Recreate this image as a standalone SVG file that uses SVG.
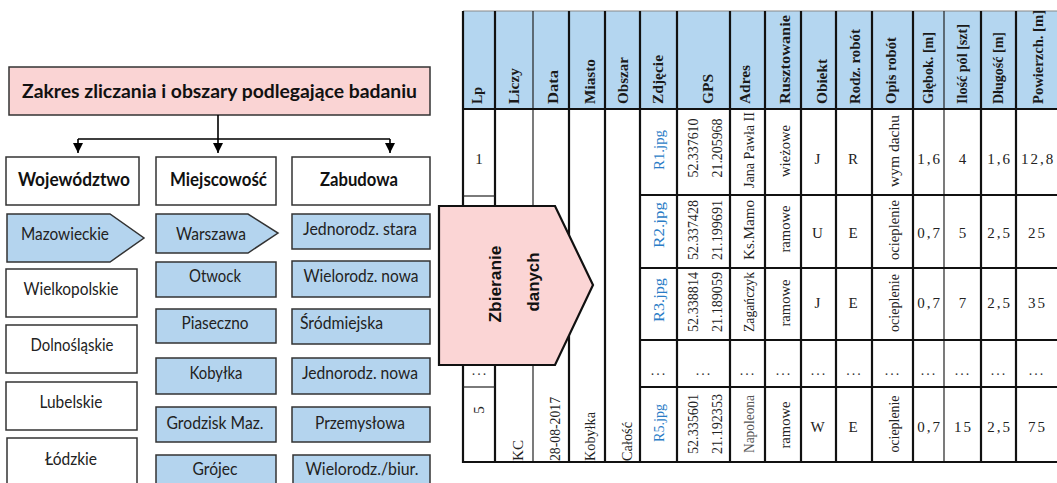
<svg xmlns="http://www.w3.org/2000/svg" width="1057" height="483" viewBox="0 0 1057 483">
<defs>
<marker id="arr" markerUnits="userSpaceOnUse" markerWidth="11" markerHeight="11" refX="10" refY="5" orient="auto">
<path d="M0,0 L10,5 L0,10 z" fill="#000"/>
</marker>
<style>
.title{font-family:Lato,"Liberation Sans",sans-serif;font-weight:bold;font-size:18px;fill:#111;text-anchor:middle}
.cat{font-family:Lato,"Liberation Sans",sans-serif;font-weight:bold;font-size:19px;fill:#111;text-anchor:middle}
.lbl{font-family:Lato,"Liberation Sans",sans-serif;font-size:16.5px;fill:#222;text-anchor:middle}
.blue{fill:#b4d4ee;stroke:#333;stroke-width:1.5}
.white{fill:#fff;stroke:#333;stroke-width:1.5}
.pink{fill:#fad4d4;stroke:#333;stroke-width:1.5}
.conn{fill:none;stroke:#000;stroke-width:1.6}
.hdr{font-family:"Liberation Serif",serif;font-weight:bold;font-size:15px;fill:#1a1a1a}
.cell{font-family:"Liberation Serif",serif;font-size:14px;fill:#222}
.jpg{font-family:"Liberation Serif",serif;font-size:14px;fill:#2a7cc6;text-anchor:middle}
.mid{text-anchor:middle}
.num{font-family:"Liberation Serif",serif;font-size:15px;letter-spacing:2px;fill:#222;text-anchor:middle}
.dots{font-family:"Liberation Serif",serif;font-size:14px;letter-spacing:2px;fill:#333;text-anchor:middle}
.gl{stroke:#111;stroke-width:2.2}
.gt{stroke:#222;stroke-width:1.2}
.zb{font-family:"Liberation Sans",sans-serif;font-weight:bold;font-size:17px;fill:#111;text-anchor:middle}
</style>
</defs>

<!-- Left hierarchy -->
<g id="title">
<rect class="pink" x="9" y="67" width="421" height="48"/>
<text class="title" x="219.5" y="98" textLength="395" lengthAdjust="spacingAndGlyphs">Zakres zliczania i obszary podlegające badaniu</text>
</g>

<g id="connectors">
<path class="conn" d="M218 115 V139 M78 139 H390"/>
<path class="conn" d="M78 139 V153" marker-end="url(#arr)"/>
<path class="conn" d="M218 139 V153" marker-end="url(#arr)"/>
<path class="conn" d="M390 139 V153" marker-end="url(#arr)"/>
</g>

<g id="wojewodztwo">
<rect class="white" x="6" y="157" width="133" height="48"/>
<text class="cat" x="74" y="186" textLength="112" lengthAdjust="spacingAndGlyphs">Województwo</text>
</g>
<g id="miejscowosc">
<rect class="white" x="156" y="157" width="120" height="48"/>
<text class="cat" x="218.5" y="186" textLength="97" lengthAdjust="spacingAndGlyphs">Miejscowość</text>
</g>
<g id="zabudowa">
<rect class="white" x="292" y="157" width="138" height="48"/>
<text class="cat" x="359" y="186" textLength="78" lengthAdjust="spacingAndGlyphs">Zabudowa</text>
</g>

<g id="mazowieckie">
<path class="blue" d="M7 214 H110 L144 238 L110 262 H7 Z"/>
<text class="lbl" x="65" y="240" textLength="88" lengthAdjust="spacingAndGlyphs">Mazowieckie</text>
</g>
<g id="wielkopolskie">
<rect class="white" x="6" y="269" width="131" height="48"/>
<text class="lbl" x="71" y="295" textLength="95" lengthAdjust="spacingAndGlyphs">Wielkopolskie</text>
</g>
<g id="dolnoslaskie">
<rect class="white" x="6" y="325" width="131" height="48"/>
<text class="lbl" x="72" y="351" textLength="83" lengthAdjust="spacingAndGlyphs">Dolnośląskie</text>
</g>
<g id="lubelskie">
<rect class="white" x="6" y="382" width="131" height="48"/>
<text class="lbl" x="71" y="408" textLength="63" lengthAdjust="spacingAndGlyphs">Lubelskie</text>
</g>
<g id="lodzkie">
<rect class="white" x="7" y="438" width="130" height="50"/>
<text class="lbl" x="71" y="465" textLength="52" lengthAdjust="spacingAndGlyphs">Łódzkie</text>
</g>

<g id="warszawa">
<path class="blue" d="M156 214 H248 L278 233 L248 253 H156 Z"/>
<text class="lbl" x="211" y="240" textLength="70" lengthAdjust="spacingAndGlyphs">Warszawa</text>
</g>
<g id="otwock">
<rect class="blue" x="156" y="262" width="120" height="35"/>
<text class="lbl" x="215" y="282" textLength="52" lengthAdjust="spacingAndGlyphs">Otwock</text>
</g>
<g id="piaseczno">
<rect class="blue" x="156" y="309" width="120" height="34"/>
<text class="lbl" x="215" y="329" textLength="67" lengthAdjust="spacingAndGlyphs">Piaseczno</text>
</g>
<g id="kobylka">
<rect class="blue" x="156" y="358" width="120" height="36"/>
<text class="lbl" x="216" y="379" textLength="53" lengthAdjust="spacingAndGlyphs">Kobyłka</text>
</g>
<g id="grodzisk">
<rect class="blue" x="156" y="407" width="120" height="35"/>
<text class="lbl" x="215" y="429" textLength="97" lengthAdjust="spacingAndGlyphs">Grodzisk Maz.</text>
</g>
<g id="grojec">
<rect class="blue" x="156" y="455" width="120" height="35"/>
<text class="lbl" x="215" y="475" textLength="45" lengthAdjust="spacingAndGlyphs">Grójec</text>
</g>

<g id="jednorodz-stara">
<rect class="blue" x="292" y="214" width="138" height="35"/>
<text class="lbl" x="360" y="235" textLength="114" lengthAdjust="spacingAndGlyphs">Jednorodz. stara</text>
</g>
<g id="wielorodz-nowa">
<rect class="blue" x="292" y="261" width="138" height="36"/>
<text class="lbl" x="361" y="282" textLength="115" lengthAdjust="spacingAndGlyphs">Wielorodz. nowa</text>
</g>
<g id="srodmiejska">
<rect class="blue" x="292" y="309" width="138" height="35"/>
<text class="lbl" x="341.5" y="329" textLength="83" lengthAdjust="spacingAndGlyphs">Śródmiejska</text>
</g>
<g id="jednorodz-nowa">
<rect class="blue" x="292" y="358" width="138" height="36"/>
<text class="lbl" x="360" y="379" textLength="116" lengthAdjust="spacingAndGlyphs">Jednorodz. nowa</text>
</g>
<g id="przemyslowa">
<rect class="blue" x="292" y="407" width="138" height="35"/>
<text class="lbl" x="360" y="429" textLength="90" lengthAdjust="spacingAndGlyphs">Przemysłowa</text>
</g>
<g id="wielorodz-biur">
<rect class="blue" x="293" y="455" width="137" height="35"/>
<text class="lbl" x="362" y="475" textLength="113" lengthAdjust="spacingAndGlyphs">Wielorodz./biur.</text>
</g>

<!-- Table -->
<g id="table">
<rect x="463" y="11" width="594" height="98" fill="#b4d6f0"/>
<line x1="463" y1="11" x2="1057" y2="11" stroke="#888" stroke-width="1"/>
<!-- vertical lines -->
<g>
<line class="gl" x1="463" y1="11" x2="463" y2="463"/>
<line class="gl" x1="495" y1="11" x2="495" y2="463"/>
<line class="gt" x1="533" y1="11" x2="533" y2="463"/>
<line class="gl" x1="569" y1="11" x2="569" y2="463"/>
<line class="gl" x1="605" y1="11" x2="605" y2="463"/>
<line class="gl" x1="640" y1="11" x2="640" y2="463"/>
<line class="gl" x1="677" y1="11" x2="677" y2="463"/>
<line class="gl" x1="730" y1="11" x2="730" y2="463"/>
<line class="gl" x1="765" y1="11" x2="765" y2="463"/>
<line class="gl" x1="801" y1="11" x2="801" y2="463"/>
<line class="gl" x1="836" y1="11" x2="836" y2="463"/>
<line class="gl" x1="872" y1="11" x2="872" y2="463"/>
<line class="gl" x1="913" y1="11" x2="913" y2="463"/>
<line class="gt" x1="944" y1="11" x2="944" y2="463"/>
<line class="gl" x1="981" y1="11" x2="981" y2="463"/>
<line class="gl" x1="1016" y1="11" x2="1016" y2="463"/>
</g>
<!-- horizontal lines -->
<g>
<line class="gl" x1="463" y1="109" x2="1057" y2="109"/>
<line class="gt" x1="463" y1="196" x2="495" y2="196"/>
<line class="gt" x1="463" y1="365" x2="495" y2="365"/>
<line class="gt" x1="463" y1="387" x2="495" y2="387"/>
<line class="gl" x1="640" y1="195" x2="1057" y2="195"/>
<line class="gl" x1="640" y1="268" x2="1057" y2="268"/>
<line class="gl" x1="640" y1="340" x2="1057" y2="340"/>
<line class="gl" x1="640" y1="387" x2="1057" y2="387"/>
<line class="gl" x1="462" y1="462" x2="1057" y2="462"/>
</g>
<!-- header texts -->
<g class="hdr">
<text transform="translate(482 104) rotate(-90)" textLength="17" lengthAdjust="spacingAndGlyphs">Lp</text>
<text transform="translate(519 104) rotate(-90)" textLength="36" lengthAdjust="spacingAndGlyphs">Liczy</text>
<text transform="translate(558 104) rotate(-90)" textLength="34" lengthAdjust="spacingAndGlyphs">Data</text>
<text transform="translate(595 104) rotate(-90)" textLength="45" lengthAdjust="spacingAndGlyphs">Miasto</text>
<text transform="translate(628 104) rotate(-90)" textLength="47" lengthAdjust="spacingAndGlyphs">Obszar</text>
<text transform="translate(663 104) rotate(-90)" textLength="49" lengthAdjust="spacingAndGlyphs">Zdjęcie</text>
<text transform="translate(713 104) rotate(-90)" textLength="30" lengthAdjust="spacingAndGlyphs">GPS</text>
<text transform="translate(750 104) rotate(-90)" textLength="39" lengthAdjust="spacingAndGlyphs">Adres</text>
<text transform="translate(790 104) rotate(-90)" textLength="89" lengthAdjust="spacingAndGlyphs">Rusztowanie</text>
<text transform="translate(827 104) rotate(-90)" textLength="45" lengthAdjust="spacingAndGlyphs">Obiekt</text>
<text transform="translate(860 104) rotate(-90)" textLength="75" lengthAdjust="spacingAndGlyphs">Rodz. robót</text>
<text transform="translate(896 104) rotate(-90)" textLength="67" lengthAdjust="spacingAndGlyphs">Opis robót</text>
<text transform="translate(933 104) rotate(-90)" textLength="72" lengthAdjust="spacingAndGlyphs">Głębok. [m]</text>
<text transform="translate(967 104) rotate(-90)" textLength="80" lengthAdjust="spacingAndGlyphs">Ilość pól [szt]</text>
<text transform="translate(1003 104) rotate(-90)" textLength="72" lengthAdjust="spacingAndGlyphs">Długość [m]</text>
<text transform="translate(1043 104) rotate(-90)" textLength="94" lengthAdjust="spacingAndGlyphs">Powierzch. [m]</text>
</g>
<!-- Lp column -->
<g class="cell mid">
<text x="479" y="164" font-size="15">1</text>
<text transform="translate(484 410) rotate(-90)" font-size="15">5</text>
</g>
<text class="dots" x="480" y="375">...</text>
<!-- merged columns -->
<g class="cell">
<text transform="translate(523 461) rotate(-90)" textLength="21" lengthAdjust="spacingAndGlyphs">KC</text>
<text transform="translate(560 461) rotate(-90)" textLength="64" lengthAdjust="spacingAndGlyphs">28-08-2017</text>
<text transform="translate(595 461) rotate(-90)" textLength="49" lengthAdjust="spacingAndGlyphs">Kobyłka</text>
<text transform="translate(632 461) rotate(-90)" textLength="39" lengthAdjust="spacingAndGlyphs">Całość</text>
</g>
<!-- Zdjecie -->
<g class="jpg">
<text transform="translate(664 150) rotate(-90)" textLength="40" lengthAdjust="spacingAndGlyphs">R1.jpg</text>
<text transform="translate(664 225) rotate(-90)" textLength="46" lengthAdjust="spacingAndGlyphs">R2.jpg</text>
<text transform="translate(664 300) rotate(-90)" textLength="44" lengthAdjust="spacingAndGlyphs">R3.jpg</text>
<text transform="translate(664 423) rotate(-90)" textLength="38" lengthAdjust="spacingAndGlyphs">R5.jpg</text>
</g>
<!-- GPS, Adres, Rusztowanie, Opis -->
<g class="cell mid">
<text transform="translate(698 148) rotate(-90)" textLength="59" lengthAdjust="spacingAndGlyphs">52.337610</text>
<text transform="translate(722 148) rotate(-90)" textLength="59" lengthAdjust="spacingAndGlyphs">21.205968</text>
<text transform="translate(698 230) rotate(-90)" textLength="60" lengthAdjust="spacingAndGlyphs">52.337428</text>
<text transform="translate(722 230) rotate(-90)" textLength="60" lengthAdjust="spacingAndGlyphs">21.199691</text>
<text transform="translate(698 302) rotate(-90)" textLength="60" lengthAdjust="spacingAndGlyphs">52.338814</text>
<text transform="translate(722 302) rotate(-90)" textLength="60" lengthAdjust="spacingAndGlyphs">21.189059</text>
<text transform="translate(698 424) rotate(-90)" textLength="60" lengthAdjust="spacingAndGlyphs">52.335601</text>
<text transform="translate(722 424) rotate(-90)" textLength="60" lengthAdjust="spacingAndGlyphs">21.192353</text>

<text transform="translate(754 150) rotate(-90)" textLength="76" lengthAdjust="spacingAndGlyphs">Jana Pawła II</text>
<text transform="translate(754 230) rotate(-90)" textLength="60" lengthAdjust="spacingAndGlyphs">Ks.Mamo</text>
<text transform="translate(754 302) rotate(-90)" textLength="60" lengthAdjust="spacingAndGlyphs">Zagańczyk</text>
<text transform="translate(754 424) rotate(-90)" textLength="58" lengthAdjust="spacingAndGlyphs" fill="#555">Napoleona</text>

<text transform="translate(790 151) rotate(-90)" textLength="52" lengthAdjust="spacingAndGlyphs">wieżowe</text>
<text transform="translate(790 229) rotate(-90)" textLength="47" lengthAdjust="spacingAndGlyphs">ramowe</text>
<text transform="translate(790 303) rotate(-90)" textLength="47" lengthAdjust="spacingAndGlyphs">ramowe</text>
<text transform="translate(790 425) rotate(-90)" textLength="47" lengthAdjust="spacingAndGlyphs">ramowe</text>

<text transform="translate(899 151) rotate(-90)" textLength="72" lengthAdjust="spacingAndGlyphs">wym dachu</text>
<text transform="translate(899 230) rotate(-90)" textLength="60" lengthAdjust="spacingAndGlyphs">ocieplenie</text>
<text transform="translate(899 303) rotate(-90)" textLength="58" lengthAdjust="spacingAndGlyphs">ocieplenie</text>
<text transform="translate(899 424) rotate(-90)" textLength="57" lengthAdjust="spacingAndGlyphs">ocieplenie</text>
</g>
<!-- letters & numbers -->
<g class="num">
<text x="818.5" y="164">J</text><text x="818.5" y="238">U</text><text x="818.5" y="308">J</text><text x="818.5" y="432">W</text>
<text x="854" y="164">R</text><text x="854" y="238">E</text><text x="854" y="308">E</text><text x="854" y="432">E</text>
<text x="929.5" y="164">1,6</text><text x="929.5" y="238">0,7</text><text x="929.5" y="308">0,7</text><text x="929.5" y="432">0,7</text>
<text x="963.5" y="164">4</text><text x="963.5" y="238">5</text><text x="963.5" y="308">7</text><text x="963.5" y="432">15</text>
<text x="999.5" y="164">1,6</text><text x="999.5" y="238">2,5</text><text x="999.5" y="308">2,5</text><text x="999.5" y="432">2,5</text>
<text x="1038" y="164">12,8</text><text x="1037.5" y="238">25</text><text x="1037.5" y="308">35</text><text x="1037.5" y="432">75</text>
</g>
<!-- ellipsis row -->
<g class="dots">
<text x="659" y="375">...</text>
<text x="704" y="375">...</text>
<text x="748" y="375">...</text>
<text x="784" y="375">...</text>
<text x="819" y="375">...</text>
<text x="854.5" y="375">...</text>
<text x="893" y="375">...</text>
<text x="929" y="375">...</text>
<text x="963" y="375">...</text>
<text x="999" y="375">...</text>
<text x="1037" y="375">...</text>
</g>
</g>

<g id="zbieranie-danych">
<path d="M439 206 H555 L593 285 L555 365 H439 Z" fill="#fbd5d5" stroke="#111" stroke-width="2.2"/>
<text class="zb" transform="translate(501 284) rotate(-90)" textLength="77" lengthAdjust="spacingAndGlyphs">Zbieranie</text>
<text class="zb" transform="translate(539 282) rotate(-90)" textLength="59" lengthAdjust="spacingAndGlyphs">danych</text>
</g>
</svg>
